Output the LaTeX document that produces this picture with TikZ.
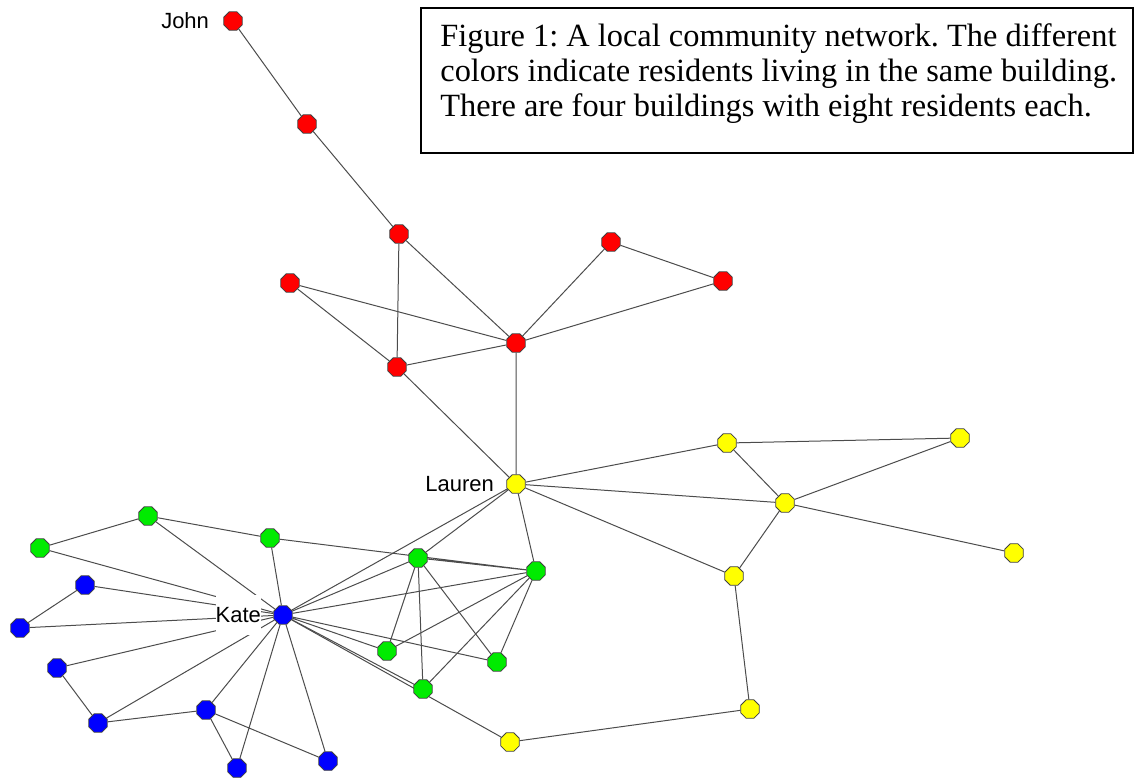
\documentclass[tikz,border=0pt]{standalone}
\usepackage{fontspec}
\setmainfont{Liberation Serif}
\setsansfont{Liberation Sans}
\usetikzlibrary{shapes.geometric,positioning,backgrounds}
\definecolor{resred}{RGB}{255,0,0}
\definecolor{resgreen}{RGB}{0,235,0}
\definecolor{resblue}{RGB}{0,0,255}
\definecolor{resyellow}{RGB}{255,255,0}
\frenchspacing
\begin{document}
\begin{tikzpicture}[x=0.5pt,y=-0.5pt,
    resident/.style={regular polygon,regular polygon sides=8,minimum size=10pt,
      inner sep=0pt,draw=black!75,line width=0.4pt},
    redres/.style={resident,fill=resred},
    yellowres/.style={resident,fill=resyellow},
    greenres/.style={resident,fill=resgreen},
    blueres/.style={resident,fill=resblue},
    tie/.style={draw=black!70,line width=0.5pt},
    tag/.style={font=\sffamily\fontsize{11}{13}\selectfont,inner sep=0pt}]
    % Local community network

    \useasboundingbox (0,0) rectangle (1135,777);

    % Caption
    \node[draw,line width=1.2pt,minimum width=356pt,minimum height=72.5pt,
      inner sep=0pt,anchor=north west] (caption) at (420,7) {};
    \node[below right=8pt and 10pt of caption.north west,align=left,inner sep=0pt,
      font=\fontsize{16.2}{17.5}\selectfont] (captext)
      {Figure 1: A local community network. The different\\
       colors indicate residents living in the same building.\\
       There are four buildings with eight residents each.};

    % Red building
    \node[redres] (john) at (233,21) {};
    \node[redres] (r2) at (307,124) {};
    \node[redres] (r3) at (399,234) {};
    \node[redres] (r4) at (290,283) {};
    \node[redres] (r5) at (611,242) {};
    \node[redres] (r6) at (723,281) {};
    \node[redres] (r7) at (397,367) {};
    \node[redres] (r8) at (516,343) {};

    % Yellow building
    \node[yellowres] (lauren) at (516,484) {};
    \node[yellowres] (y2) at (727,443) {};
    \node[yellowres] (y3) at (960,438) {};
    \node[yellowres] (y4) at (785,503) {};
    \node[yellowres] (y5) at (1014,553) {};
    \node[yellowres] (y6) at (734,576) {};
    \node[yellowres] (y7) at (750,709) {};
    \node[yellowres] (y8) at (510,742) {};

    % Green building
    \node[greenres] (g1) at (40,548) {};
    \node[greenres] (g2) at (148,516) {};
    \node[greenres] (g3) at (270,538) {};
    \node[greenres] (g4) at (418,558) {};
    \node[greenres] (g5) at (536,571) {};
    \node[greenres] (g6) at (387,651) {};
    \node[greenres] (g7) at (497,662) {};
    \node[greenres] (g8) at (423,689) {};

    % Blue building
    \node[blueres] (kate) at (283,615) {};
    \node[blueres] (b2) at (85,585) {};
    \node[blueres] (b3) at (20,628) {};
    \node[blueres] (b4) at (57,668) {};
    \node[blueres] (b5) at (98,723) {};
    \node[blueres] (b6) at (206,710) {};
    \node[blueres] (b7) at (237,768) {};
    \node[blueres] (b8) at (328,761) {};

    % Names
    \node[tag,left=7pt of john] (johnlbl) {John};
    \node[tag,left=6pt of lauren] (laurenlbl) {Lauren};
    \node[tag,fill=white,minimum height=20pt,left=6pt of kate] (katelbl) {Kate};

    % Ties
    \begin{pgfonlayer}{background}
    \draw[tie] (john) -- (r2) -- (r3) -- (r7) -- (r8) -- (r3);
    \draw[tie] (r4) -- (r7) (r4) -- (r8);
    \draw[tie] (r8) -- (r5) -- (r6) -- (r8);
    \draw[tie] (r8) -- (lauren) -- (r7);

    \draw[tie] (lauren) -- (y2) -- (y3) -- (y4) -- (y2);
    \draw[tie] (y4) -- (y5) (lauren) -- (y4) -- (y6) -- (lauren);
    \draw[tie] (y6) -- (y7) -- (y8);

    \draw[tie] (lauren) -- (g4) (lauren) -- (g5) (lauren) -- (kate);
    \draw[tie] (g1) -- (g2) -- (g3) -- (g5) -- (g4);
    \draw[tie] (g4) -- (g6) (g4) -- (g7) (g4) -- (g8);
    \draw[tie] (g5) -- (g6) (g5) -- (g7) (g5) -- (g8);
    \draw[tie] (kate) -- (g1) (kate) -- (g2) (kate) -- (g3) (kate) -- (g4);
    \draw[tie] (kate) -- (g5) (kate) -- (g6) (kate) -- (g7) (kate) -- (g8);
    \draw[tie] (kate) -- (y8);

    \draw[tie] (b3) -- (b2) -- (kate) -- (b3);
    \draw[tie] (kate) -- (b4) -- (b5) -- (kate);
    \draw[tie] (b5) -- (b6) -- (kate);
    \draw[tie] (b6) -- (b7) -- (kate) -- (b8) -- (b6);
    \end{pgfonlayer}
\end{tikzpicture}
\end{document}
